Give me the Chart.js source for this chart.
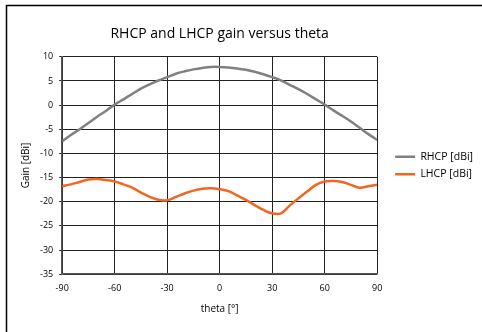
<!DOCTYPE html>
<html>
<head>
<meta charset="utf-8">
<script src="https://cdn.jsdelivr.net/npm/chart.js@4"></script>
<style>
  html, body { margin: 0; padding: 0; background: #fff; }
  #wrap { width: 482px; height: 332px; }
</style>
</head>
<body>
<div id="wrap"><canvas id="chart1" width="482" height="332"></canvas></div>
<script>
let theta = [-90, -85, -80, -75, -70, -65, -60, -55, -50, -45, -40, -35, -30, -25, -20, -15, -10, -5, 0,
  5, 10, 15, 20, 25, 30, 35, 40, 45, 50, 55, 60, 65, 70, 75, 80, 85, 90];
let rhcp = [-7.5, -6.2, -5.0, -3.7, -2.4, -1.2, 0.1, 1.2, 2.3, 3.4, 4.3, 5.1, 5.8, 6.5, 7.0, 7.4, 7.7, 7.9, 7.9,
  7.8, 7.6, 7.3, 6.9, 6.4, 5.8, 5.1, 4.2, 3.3, 2.3, 1.2, 0.1, -1.1, -2.2, -3.4, -4.7, -6.0, -7.2];
let lhcp = [-16.8, -16.4, -15.9, -15.4, -15.3, -15.5, -15.8, -16.4, -17.1, -18.1, -19.0, -19.6, -19.7, -19.0, -18.3, -17.7, -17.3, -17.2, -17.4,
  -17.8, -18.7, -19.6, -20.7, -21.7, -22.4, -22.4, -20.8, -19.3, -17.9, -16.5, -15.8, -15.7, -15.9, -16.5, -17.1, -16.8, -16.5];
let xTicks = [-90, -60, -30, 0, 30, 60, 90];

const FONT = "'Open Sans', 'DejaVu Sans', sans-serif";

function chart1() {
  let ctx = document.getElementById('chart1').getContext('2d');
  let myChart = new Chart(ctx, {
    type: 'line',
    data: {
      datasets: [{
        label: 'RHCP [dBi]',
        data: theta.map((t, i) => ({ x: t, y: rhcp[i] })),
        borderColor: '#808080',
        borderWidth: 2.5,
        pointRadius: 0,
        tension: 0.4,
        fill: false
      }, {
        label: 'LHCP [dBi]',
        data: theta.map((t, i) => ({ x: t, y: lhcp[i] })),
        borderColor: '#f26522',
        borderWidth: 2.5,
        pointRadius: 0,
        tension: 0.4,
        fill: false
      }]
    },
    options: {
      responsive: false,
      animation: false,
      scales: {
        x: {
          type: 'linear',
          min: -90,
          max: 90,
          afterBuildTicks: (axis) => { axis.ticks = xTicks.map(v => ({ value: v })); },
          grid: { color: '#222', lineWidth: 1, drawTicks: false },
          border: { color: '#555', width: 1.5 },
          ticks: { color: '#000', font: { family: FONT, size: 9 }, padding: 9, maxRotation: 0 },
          title: {
            display: true,
            text: 'theta [°]',
            color: '#000',
            font: { family: FONT, size: 10 },
            padding: { top: 0, bottom: 0 }
          }
        },
        y: {
          min: -35,
          max: 10,
          ticks: { stepSize: 5, color: '#000', font: { family: FONT, size: 9 }, padding: 6 },
          grid: { color: '#222', lineWidth: 1, drawTicks: true, tickLength: 3 },
          border: { color: '#555', width: 1.5 },
          title: {
            display: true,
            text: 'Gain [dBi]',
            color: '#000',
            font: { family: FONT, size: 10 },
            padding: { top: 4, bottom: 2 }
          }
        }
      },
      plugins: {
        title: {
          display: true,
          text: 'RHCP and LHCP gain versus theta',
          color: '#000',
          fullSize: false,
          font: { family: FONT, size: 14, weight: 'normal' },
          padding: { top: 0, bottom: 14 }
        },
        legend: {
          position: 'right',
          labels: {
            usePointStyle: true,
            pointStyle: 'line',
            pointStyleWidth: 20,
            boxHeight: 10,
            color: '#000',
            font: { family: FONT, size: 10.5 },
            padding: 7
          }
        },
        tooltip: { enabled: false }
      },
      layout: {
        padding: { left: 16, right: 10, top: 26, bottom: 17 }
      }
    },
    plugins: [{
      id: 'legendShift',
      afterLayout: (chart) => {
        // nudge legend right/up to sit where the reference has it
        const lg = chart.legend;
        lg.left += 11; lg.right += 11;
        lg.top -= 5; lg.bottom -= 5;
      }
    }, {
      id: 'frame',
      afterDraw: (chart) => {
        const c = chart.ctx;
        c.save();
        c.strokeStyle = '#000';
        c.lineWidth = 1.5;
        c.beginPath();
        c.moveTo(6.5, 332);
        c.lineTo(6.5, 5.5);
        c.lineTo(482, 5.5);
        c.stroke();
        c.restore();
      }
    }]
  });
}

chart1();
</script>
</body>
</html>
